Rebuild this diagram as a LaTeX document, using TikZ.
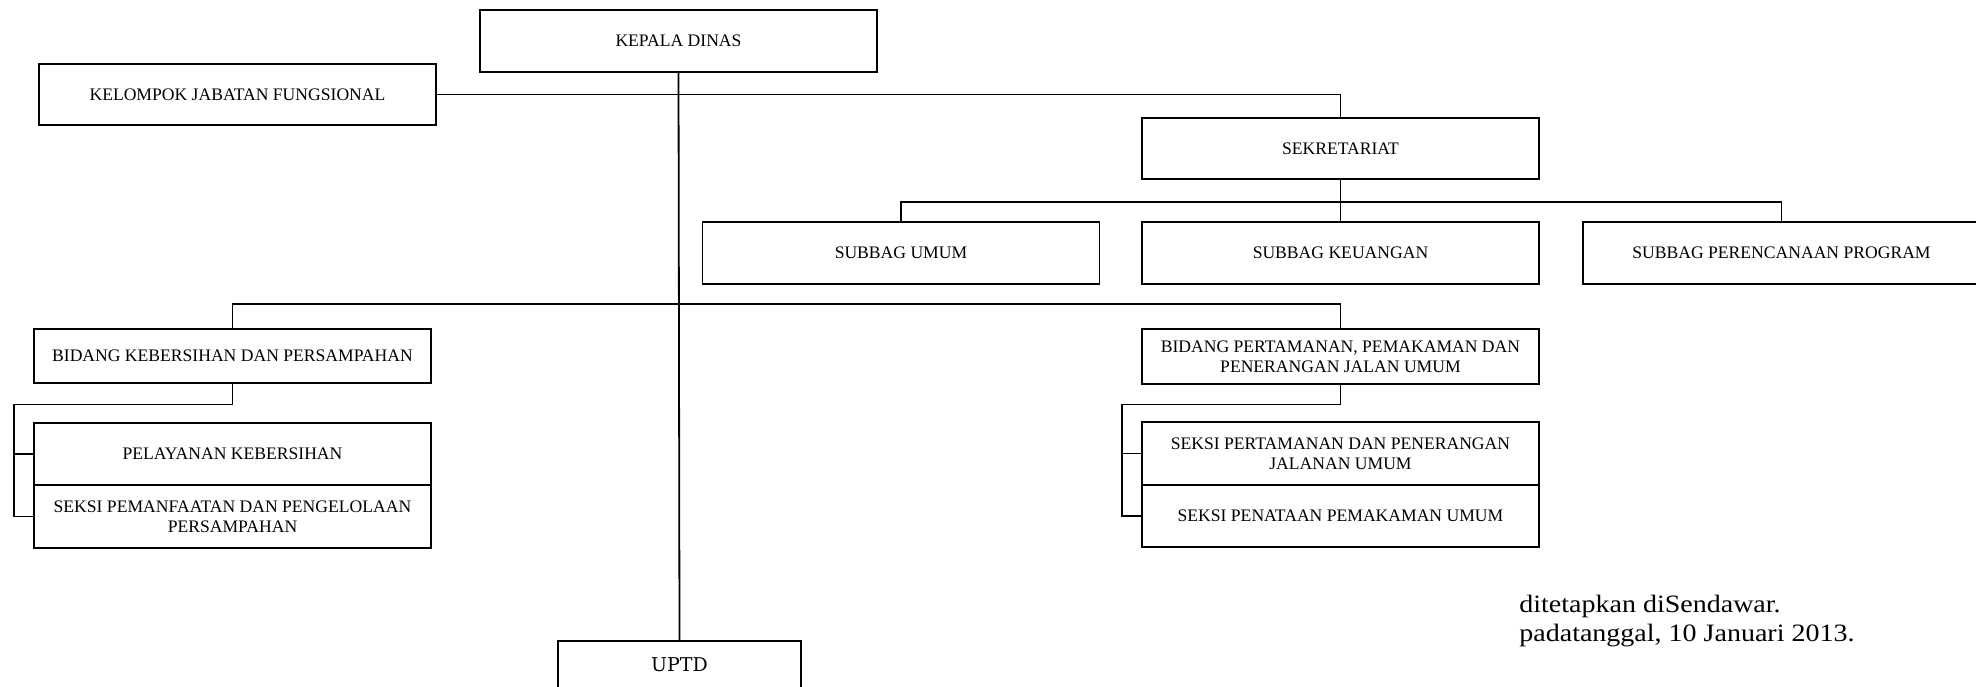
\documentclass[tikz,border=0pt]{standalone}
\usepackage{fontspec}
\setmainfont{Liberation Serif}
\newfontfamily\boxfont{Liberation Serif}
\newfontfamily\notefont{Liberation Serif}[FakeStretch=1.12]
\newfontfamily\uptdfont{DejaVu Serif}
\begin{document}
\begin{tikzpicture}[x=0.5pt,y=-0.5pt,
  orgbox/.style={draw, line width=0.9pt, inner sep=0pt, align=center,
    font=\boxfont\fontsize{8.8}{10}\selectfont, minimum width=198.5pt},
  link/.style={line width=0.9pt}]
\useasboundingbox (0,0) rectangle (1976,686);
\node[orgbox, minimum height=31pt] (kepala) at (678.5,41) {KEPALA DINAS};
\node[orgbox, minimum height=30.5pt] (kelompok) at (237.5,94.5) {KELOMPOK JABATAN FUNGSIONAL};
\node[orgbox, minimum height=30.5pt] (sekr) at (1340.5,148.5) {SEKRETARIAT};
\node[orgbox, minimum height=31pt] (umum) at (901,253) {SUBBAG UMUM};
\node[orgbox, minimum height=31pt] (keu) at (1340.5,253) {SUBBAG KEUANGAN};
\node[orgbox, minimum height=31pt] (peren) at (1781.5,253) {SUBBAG PERENCANAAN PROGRAM};
\node[orgbox, minimum height=27pt] (bk) at (232.5,356) {BIDANG KEBERSIHAN DAN PERSAMPAHAN};
\node[orgbox, minimum height=31pt] (pel) at (232.5,454) {PELAYANAN KEBERSIHAN};
\node[orgbox, minimum height=31.5pt] (pem) at (232.5,516.5) {SEKSI PEMANFAATAN DAN PENGELOLAAN\\PERSAMPAHAN};
\node[orgbox, minimum height=27.5pt] (bp) at (1340.5,356.5) {BIDANG PERTAMANAN, PEMAKAMAN DAN\\PENERANGAN JALAN UMUM};
\node[orgbox, minimum height=31.5pt] (spj) at (1340.5,453.5) {SEKSI PERTAMANAN DAN PENERANGAN\\JALANAN UMUM};
\node[orgbox, minimum height=31pt] (spp) at (1340.5,516) {SEKSI PENATAAN PEMAKAMAN UMUM};
\node[draw, line width=0.9pt, minimum width=121.5pt, minimum height=30pt, anchor=north,
  font=\uptdfont\fontsize{9.5}{11}\selectfont, text depth=0pt] (uptd) at (679.5,640) {};
\node[font=\uptdfont\fontsize{9.5}{11}\selectfont] (uptdlabel) at (679.5,665) {UPTD};
\node[anchor=west, align=left, inner sep=0pt, font=\notefont\fontsize{12.5}{14.5}\selectfont] (note) at (1519,621)
  {ditetapkan diSendawar.\\padatanggal, 10 Januari 2013.};
\coordinate (sbus) at (1340.5,201.6);
\coordinate (bbus) at (679,303.7);
\coordinate (lbus) at (14,404.5);
\coordinate (rbus) at (1121.6,404.5);
\draw[link] (kepala.south) -- (uptd.north);
\draw[link] (kelompok.east) -| (sekr.north);
\draw[link] (sekr.south) -- (keu.north);
\draw[link] (umum.north) |- (sbus) -| (peren.north);
\draw[link] (bk.north) |- (bbus) -| (bp.north);
\draw[link] (bk.south) |- (lbus) |- (pel.west);
\draw[link] (lbus) |- (pem.west);
\draw[link] (bp.south) |- (rbus) |- (spj.west);
\draw[link] (rbus) |- (spp.west);
\end{tikzpicture}
\end{document}
